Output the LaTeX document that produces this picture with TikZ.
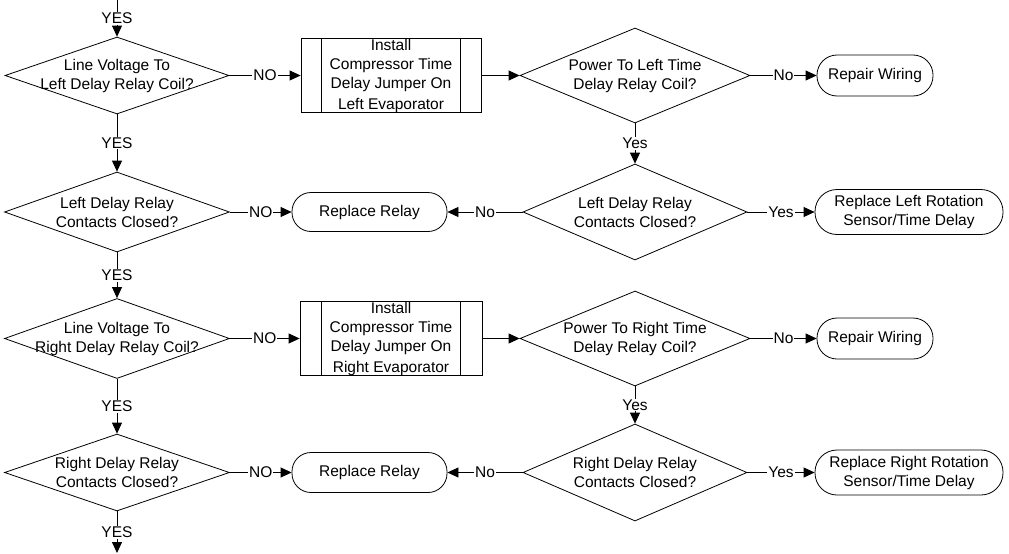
\documentclass[tikz,border=0pt]{standalone}
\usepackage{fontspec}
\setmainfont{Liberation Sans}
\usetikzlibrary{shapes.geometric,arrows.meta,calc}
\begin{document}
\begin{tikzpicture}[x=1pt,y=-1pt,
  every node/.style={font=\fontsize{15.5}{19}\selectfont},
  dia/.style={draw, diamond, inner sep=0pt, line width=0.8pt},
  dtxt/.style={align=center, inner sep=0pt},
  proc/.style={draw, rectangle, inner sep=0pt, line width=0.8pt, align=center},
  term/.style={draw, rectangle, inner sep=0pt, line width=0.8pt, align=center},
  lbl/.style={fill=white, inner sep=1pt},
  arr/.style={line width=0.8pt, -{Triangle[length=11pt,width=10pt]}},
  ln/.style={line width=0.8pt}]
\useasboundingbox (0,0) rectangle (1009,554);

% left column
\node[dia, minimum width=224, minimum height=77,
  label={[dtxt]center:Line Voltage To\\Left Delay Relay Coil?}] (d1) at (117,75.5) {};
\node[dia, minimum width=225, minimum height=80,
  label={[dtxt]center:Left Delay Relay\\Contacts Closed?}] (d4) at (117,212) {};
\node[dia, minimum width=225, minimum height=80,
  label={[dtxt]center:Line Voltage To\\Right Delay Relay Coil?}] (d5) at (117,338.5) {};
\node[dia, minimum width=225, minimum height=77,
  label={[dtxt]center:Right Delay Relay\\Contacts Closed?}] (d8) at (117,472.5) {};

% process boxes
\node[proc, minimum width=180, minimum height=74] (b1) at (391,75.5)
  {Install\\Compressor Time\\Delay Jumper On\\[2pt]Left Evaporator};
\node[proc, minimum width=182, minimum height=74] (b2) at (391,338.5)
  {Install\\Compressor Time\\Delay Jumper On\\[2pt]Right Evaporator};
\draw[ln] ($(b1.north west)+(21,0)$) -- ($(b1.south west)+(21,0)$);
\draw[ln] ($(b1.north east)+(-21,0)$) -- ($(b1.south east)+(-21,0)$);
\draw[ln] ($(b2.north west)+(22,0)$) -- ($(b2.south west)+(22,0)$);
\draw[ln] ($(b2.north east)+(-22,0)$) -- ($(b2.south east)+(-22,0)$);

% right diamonds
\node[dia, minimum width=230, minimum height=95,
  label={[dtxt]center:Power To Left Time\\Delay Relay Coil?}] (d2) at (635,75.5) {};
\node[dia, minimum width=224, minimum height=96,
  label={[dtxt]center:Left Delay Relay\\Contacts Closed?}] (d3) at (635,212) {};
\node[dia, minimum width=230, minimum height=95,
  label={[dtxt]center:Power To Right Time\\Delay Relay Coil?}] (d6) at (635,338.5) {};
\node[dia, minimum width=224, minimum height=97,
  label={[dtxt]center:Right Delay Relay\\Contacts Closed?}] (d7) at (635,472.5) {};

% terminals
\node[term, minimum width=116, minimum height=41, rounded corners=20pt] (rw1) at (875,75.5) {Repair Wiring};
\node[term, minimum width=116, minimum height=41, rounded corners=20pt] (rw2) at (875,338.5) {Repair Wiring};
\node[term, minimum width=155, minimum height=39, rounded corners=19pt] (rr1) at (369.5,212) {Replace Relay};
\node[term, minimum width=155, minimum height=40, rounded corners=19pt] (rr2) at (369.5,472.5) {Replace Relay};
\node[term, minimum width=188, minimum height=45, rounded corners=22pt] (rs1) at (909,212) {Replace Left Rotation\\Sensor/Time Delay};
\node[term, minimum width=188, minimum height=45, rounded corners=22pt] (rs2) at (909,472.5) {Replace Right Rotation\\Sensor/Time Delay};

\coordinate (top) at (117,0);
\coordinate (bot) at (117,553);

% connectors
\draw[arr] (top) -- node[lbl]{YES} (d1.north);
\draw[arr] (d1.south) -- node[lbl]{YES} (d4.north);
\draw[arr] (d4.south) -- node[lbl]{YES} (d5.north);
\draw[arr] (d5.south) -- node[lbl]{YES} (d8.north);
\draw[arr] (d8.south) -- node[lbl]{YES} (bot);

\draw[arr] (d1.east) -- node[lbl]{NO} (b1.west);
\draw[arr] (d4.east) -- node[lbl]{NO} (rr1.west);
\draw[arr] (d5.east) -- node[lbl]{NO} (b2.west);
\draw[arr] (d8.east) -- node[lbl]{NO} (rr2.west);

\draw[arr] (b1.east) -- (d2.west);
\draw[arr] (b2.east) -- (d6.west);

\draw[arr] (d2.east) -- node[lbl]{No} (rw1.west);
\draw[arr] (d6.east) -- node[lbl]{No} (rw2.west);
\draw[arr] (d2.south) -- node[lbl]{Yes} (d3.north);
\draw[arr] (d6.south) -- node[lbl]{Yes} (d7.north);
\draw[arr] (d3.west) -- node[lbl]{No} (rr1.east);
\draw[arr] (d7.west) -- node[lbl]{No} (rr2.east);
\draw[arr] (d3.east) -- node[lbl]{Yes} (rs1.west);
\draw[arr] (d7.east) -- node[lbl]{Yes} (rs2.west);
\end{tikzpicture}
\end{document}
